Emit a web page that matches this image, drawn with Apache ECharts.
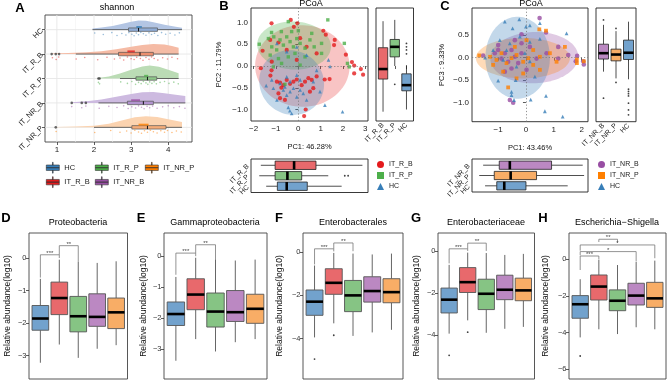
<!DOCTYPE html>
<html>
<head>
<meta charset="utf-8">
<script src="https://cdn.jsdelivr.net/npm/echarts@6/dist/echarts.min.js"></script>
<style>
html, body { margin: 0; padding: 0; background: #fff; }
#chart { width: 669px; height: 381px; }
</style>
</head>
<body>
<div id="chart"></div>
<script>
// ---------------- data ----------------
var groups = ['HC', 'IT_R_B', 'IT_R_P', 'IT_NR_B', 'IT_NR_P'];

// A: shannon index, boxes are [min, q1, median, q3, max]
var shannonTicks = [1, 2, 3, 4];
var shannonMinor = [1.5, 2.5, 3.5, 4.5];
var shannonBox = [
    [1.96, 2.93, 3.20, 3.71, 4.37],
    [1.51, 2.66, 3.24, 3.60, 4.28],
    [2.70, 3.13, 3.44, 3.69, 4.28],
    [2.12, 2.90, 3.33, 3.60, 4.46],
    [2.00, 3.02, 3.44, 3.94, 4.37]
];
var shannonOutliers = [[], [0.86, 0.97, 1.06], [2.12, 2.15], [1.40, 1.67, 1.78], [0.97]];
var shannonMeanSE = [[3.14, 3.29], [2.90, 3.10], [3.35, 3.46], [3.00, 3.24], [3.20, 3.47]];
// half violin: [shannon, height in category units]
var shannonDensity = [
    [[1.96, 0.05], [2.2, 0.09], [2.5, 0.15], [2.8, 0.25], [3.0, 0.32], [3.2, 0.37], [3.4, 0.36], [3.6, 0.3], [3.9, 0.2], [4.2, 0.12], [4.37, 0.08]],
    [[0.86, 0.02], [1.3, 0.04], [1.8, 0.07], [2.2, 0.12], [2.6, 0.2], [3.0, 0.3], [3.3, 0.37], [3.6, 0.41], [3.9, 0.39], [4.1, 0.33], [4.28, 0.26]],
    [[2.1, 0.02], [2.4, 0.08], [2.7, 0.2], [3.0, 0.36], [3.3, 0.49], [3.5, 0.53], [3.75, 0.48], [4.0, 0.36], [4.28, 0.22]],
    [[1.4, 0.03], [1.8, 0.07], [2.2, 0.14], [2.6, 0.25], [3.0, 0.37], [3.3, 0.44], [3.6, 0.45], [3.9, 0.4], [4.2, 0.33], [4.46, 0.28]],
    [[0.97, 0.01], [1.5, 0.03], [2.0, 0.07], [2.4, 0.15], [2.8, 0.3], [3.1, 0.41], [3.4, 0.45], [3.7, 0.42], [4.0, 0.33], [4.37, 0.22]]
];
// raw points under each box: [shannon, offset below the box]
var shannonPoints = [
    [[2.02, 0.14], [2.25, 0.2], [2.48, 0.12], [2.62, 0.24], [2.75, 0.16], [2.86, 0.22], [2.94, 0.12], [3.02, 0.19], [3.08, 0.25], [3.14, 0.14], [3.2, 0.21], [3.26, 0.11], [3.33, 0.17], [3.4, 0.23], [3.48, 0.13], [3.55, 0.2], [3.63, 0.15], [3.72, 0.24], [3.82, 0.12], [3.93, 0.19], [4.05, 0.15], [4.18, 0.22], [4.3, 0.13]],
    [[0.88, 0.15], [0.98, 0.22], [1.05, 0.12], [1.52, 0.2], [1.75, 0.14], [2.1, 0.23], [2.35, 0.13], [2.55, 0.2], [2.7, 0.16], [2.8, 0.24], [2.9, 0.12], [3.0, 0.19], [3.08, 0.22], [3.15, 0.13], [3.25, 0.18], [3.32, 0.25], [3.4, 0.14], [3.48, 0.21], [3.55, 0.12], [3.62, 0.18], [3.72, 0.24], [3.85, 0.15], [3.98, 0.2], [4.1, 0.13], [4.25, 0.19]],
    [[2.12, 0.16], [2.15, 0.22], [2.72, 0.14], [2.9, 0.2], [3.02, 0.12], [3.12, 0.24], [3.2, 0.16], [3.27, 0.21], [3.33, 0.12], [3.4, 0.18], [3.45, 0.24], [3.5, 0.14], [3.56, 0.2], [3.62, 0.13], [3.68, 0.22], [3.78, 0.16], [3.9, 0.12], [4.02, 0.2], [4.15, 0.15], [4.27, 0.22]],
    [[1.4, 0.15], [1.67, 0.2], [1.78, 0.13], [2.14, 0.22], [2.4, 0.14], [2.62, 0.19], [2.8, 0.12], [2.92, 0.23], [3.02, 0.16], [3.12, 0.21], [3.2, 0.12], [3.28, 0.18], [3.35, 0.24], [3.43, 0.14], [3.5, 0.2], [3.58, 0.13], [3.7, 0.22], [3.85, 0.16], [4.0, 0.12], [4.15, 0.2], [4.3, 0.15], [4.45, 0.22]],
    [[0.98, 0.17], [2.02, 0.21], [2.45, 0.13], [2.7, 0.2], [2.88, 0.15], [3.0, 0.23], [3.1, 0.12], [3.2, 0.19], [3.28, 0.24], [3.36, 0.14], [3.44, 0.2], [3.52, 0.12], [3.6, 0.18], [3.7, 0.23], [3.8, 0.14], [3.9, 0.2], [3.98, 0.13], [4.1, 0.21], [4.22, 0.15], [4.35, 0.19]]
];

// B: PCoA of IT_R_B / IT_R_P / HC
var pcoaBGroups = ['IT_R_B', 'IT_R_P', 'HC'];
var pcoaBXTicks = [-2, -1, 0, 1, 2, 3];
var pcoaBYTicks = [-1, -0.5, 0, 0.5, 1];
var pcoaB_IT_R_B = [[-1.2, 0.98], [-0.34, 1.06], [-0.04, 0.98], [-0.2, 0.9], [1.12, 0.81], [1.23, 0.72], [1.63, 0.6], [1.6, 0.48], [2.13, 0.26], [2.4, 0.09], [2.5, 0.01], [2.5, -0.17], [2.8, -0.07], [2.9, -0.2], [1.18, -0.31], [1.4, -0.3], [0.26, -1.15], [0.33, -1.0], [-0.76, -0.5], [-1.25, -0.22], [-1.2, -0.1], [-0.96, -0.36], [-0.82, -0.38], [-0.67, -0.44], [-0.52, -0.32], [-0.37, -0.41], [-0.22, -0.36], [-0.07, -0.31], [0.15, -0.44], [0.3, -0.36], [0.45, -0.28], [0.6, -0.32], [0.82, -0.24], [-0.89, -0.63], [-0.82, -0.74], [-0.6, -0.78], [0.52, -0.59], [0.67, -0.51], [-1.26, 0.6], [-0.89, 0.54], [-0.52, 0.37], [0.08, 0.64], [0.37, 0.44], [0.82, 0.29], [-1.19, 0.1], [-0.07, 0.14], [-1.6, 0.35], [-1.68, -0.05]];
var pcoaB_IT_R_P = [[-0.45, 1.02], [1.32, 1.06], [-1.2, 0.77], [-0.76, 0.79], [0.0, 0.81], [0.6, 0.75], [2.06, 0.52], [2.2, 0.06], [2.28, -0.02], [-1.34, 0.63], [-1.19, 0.44], [-0.97, 0.37], [-0.82, 0.6], [-0.67, 0.48], [-0.52, 0.67], [-0.37, 0.56], [-0.22, 0.44], [-0.07, 0.63], [0.08, 0.52], [0.3, 0.41], [0.52, 0.6], [0.71, 0.44], [1.04, 0.52], [-1.26, 0.25], [-0.89, 0.17], [-0.45, 0.21], [-0.15, 0.29], [0.3, 0.21], [1.04, 0.29], [-1.12, -0.02], [-0.75, 0.06], [0.08, 0.02], [-0.3, 0.79], [-1.1, 0.67], [-1.75, 0.5], [-0.6, -0.42]];
var pcoaB_HC = [[1.19, -0.9], [1.98, -1.05], [-0.45, -0.95], [-0.3, -1.09], [-0.38, -1.03], [1.35, 0.14], [1.42, -0.01], [-0.67, -0.55], [-0.52, -0.67], [-0.37, -0.59], [-0.22, -0.51], [-0.07, -0.71], [0.08, -0.55], [0.22, -0.63], [0.37, -0.78], [-0.96, -0.78], [-1.12, -0.51], [-0.82, -0.4], [-0.37, -0.36], [0.08, -0.32], [0.67, -0.36], [0.82, -0.1], [-0.52, 0.33], [-0.07, 0.44], [-0.96, 0.52], [0.37, 0.25], [-0.52, -0.25], [-0.07, -0.21], [-1.19, -0.32], [0.97, -0.59], [-1.44, -0.45], [-0.6, -0.48]];
// confidence ellipses: [cx, cy, ux, uy, vx, vy]
var pcoaBEllipses = [[0.18, 0.0, 2.1, -0.12, 0.25, 0.93], [-0.19, 0.47, 1.65, -0.05, 0.08, 0.55], [-0.3, -0.38, 1.45, -0.08, 0.08, 0.74]];
var pcoaB_PC2Box = [[-1.05, -0.30, -0.07, 0.42, 1.03], [0.0, 0.21, 0.44, 0.61, 1.06], [-1.0, -0.57, -0.44, -0.18, 0.02]];
var pcoaB_PC2Out = [[], [-0.42], [0.28, 0.37, 0.44, 0.52]];
var pcoaB_PC1Box = [[-1.68, -1.04, -0.19, 0.79, 2.87], [-1.75, -1.04, -0.49, 0.15, 1.34], [-1.44, -0.94, -0.52, 0.40, 1.94]];
var pcoaB_PC1Out = [[], [2.08, 2.23], []];

// C: PCoA of IT_NR_B / IT_NR_P / HC
var pcoaCGroups = ['IT_NR_B', 'IT_NR_P', 'HC'];
var pcoaCXTicks = [-1, 0, 1, 2];
var pcoaCYTicks = [-1, -0.5, 0, 0.5];
var pcoaC_IT_NR_B = [[0.49, 0.88], [0.72, 0.56], [-0.16, 0.52], [1.16, 0.24], [1.52, 0.06], [1.84, 0.04], [1.79, -0.08], [2.06, -0.08], [2.08, -0.15], [-0.46, -1.0], [-0.58, -0.94], [-1.12, 0.1], [-1.0, 0.17], [-0.88, -0.02], [-0.76, 0.1], [-0.64, -0.09], [-0.52, 0.17], [-0.4, 0.02], [-0.28, -0.12], [-0.52, -0.24], [-0.76, -0.31], [-0.16, 0.1], [0.14, 0.24], [0.38, -0.02], [0.74, 0.1], [-1.0, 0.28], [-0.16, 0.32], [0.02, -0.27], [-0.4, 0.39], [1.16, -0.02], [-1.54, 0.05]];
var pcoaC_IT_NR_P = [[0.48, 0.63], [0.72, 0.6], [1.4, 0.24], [1.83, -0.04], [1.83, -0.12], [2.08, -0.08], [-0.64, -0.66], [-0.34, -0.46], [-1.29, 0.02], [-1.06, -0.05], [-0.88, 0.1], [-0.7, -0.12], [-0.52, -0.01], [-0.34, 0.06], [-0.1, -0.09], [0.08, -0.01], [0.26, -0.16], [0.5, 0.02], [0.86, 0.1], [1.1, -0.09], [-0.82, -0.31], [-0.4, 0.24], [0.02, 0.39], [0.26, 0.17], [-1.18, -0.16], [-0.1, -0.35], [0.5, -0.27], [-1.68, 0.05]];
var pcoaC_HC = [[-0.76, 0.8], [-0.24, 0.85], [0.0, 0.69], [-0.48, 0.65], [0.14, 0.72], [0.5, 0.77], [1.46, 0.54], [-1.0, -0.51], [-0.37, -0.5], [-0.52, -0.83], [-0.43, -0.94], [0.17, -0.93], [0.72, -0.85], [0.68, -1.19], [1.32, -1.31], [-0.52, -0.76], [-0.94, 0.39], [-0.58, 0.32], [-0.22, 0.47], [0.14, 0.35], [0.5, 0.42], [-0.82, -0.05], [-0.34, -0.2], [0.14, -0.08], [-0.7, 0.17], [-1.18, 0.17], [-0.04, 0.1], [0.32, -0.42], [-1.47, 0.0]];
var pcoaCEllipses = [[0.3, 0.0, 1.58, 0.02, 0.0, 0.57], [-0.11, -0.01, 1.69, 0.0, 0.0, 0.45], [-0.3, 0.0, 1.16, 0.0, 0.0, 0.91]];
var pcoaC_PC3Box = [[-0.31, -0.03, 0.10, 0.30, 0.73], [-0.46, -0.07, 0.07, 0.19, 0.59], [-0.48, -0.04, 0.11, 0.39, 0.80]];
var pcoaC_PC3Out = [[0.84, -0.9], [0.65, -0.55], [-0.7, -0.75, -0.8, -0.85, -1.01, -1.16, -1.27]];
var pcoaC_PC1Box = [[-1.54, -0.96, -0.58, 0.92, 2.04], [-1.68, -1.14, -0.55, 0.38, 2.09], [-1.47, -1.05, -0.78, 0.0, 1.5]];
var pcoaC_PC1Out = [[], [], []];

// D-H: relative abundance (log10), boxes in groups order
var taxaTitles = ['Proteobacteria', 'Gammaproteobacteria', 'Enterobacterales', 'Enterobacteriaceae', 'Escherichia\u2212Shigella'];
var boxProteobacteria = [[-3.22, -2.22, -1.86, -1.46, -0.64], [-2.66, -1.74, -1.23, -0.74, -0.05], [-3.07, -2.27, -1.79, -1.18, -0.12], [-2.79, -2.10, -1.81, -1.10, -0.15], [-2.68, -2.17, -1.67, -1.23, -0.10]];
var boxGammaproteobacteria = [[-3.38, -2.24, -1.87, -1.48, -0.67], [-2.68, -1.73, -1.24, -0.73, -0.05], [-3.08, -2.29, -1.79, -1.19, -0.10], [-2.78, -2.11, -1.81, -1.11, -0.14], [-2.68, -2.17, -1.70, -1.23, -0.11]];
var boxEnterobacterales = [[-3.95, -2.93, -2.30, -1.76, -0.63], [-3.30, -1.96, -1.43, -0.78, -0.05], [-3.88, -2.76, -2.01, -1.32, -0.08], [-3.72, -2.32, -1.81, -1.15, -0.12], [-3.60, -2.35, -1.86, -1.24, -0.08]];
var boxEnterobacteriaceae = [[-3.92, -2.94, -2.31, -1.76, -0.66], [-3.29, -1.97, -1.48, -0.79, -0.08], [-3.88, -2.78, -2.03, -1.34, -0.10], [-3.69, -2.31, -1.84, -1.15, -0.19], [-3.60, -2.36, -1.87, -1.29, -0.14]];
var boxEscherichia = [[-4.26, -3.22, -2.46, -1.99, -1.10], [-3.82, -2.23, -1.50, -0.87, -0.05], [-4.08, -2.81, -2.27, -1.68, -0.33], [-3.71, -2.50, -1.99, -1.32, -0.15], [-3.82, -2.63, -2.14, -1.27, -0.09]];
var outProteobacteria = [[], [], [], [], []];
var outGammaproteobacteria = [[], [], [], [], []];
var outEnterobacterales = [[-4.95], [-3.85], [], [], []];
var outEnterobacteriaceae = [[-4.95], [-3.85], [], [], []];
var outEscherichia = [[-5.27], [], [], [], []];
var taxaTicks = [[0, -1, -2, -3], [0, -1, -2, -3], [0, -2, -4], [0, -2, -4], [0, -2, -4, -6]];
// significance brackets: [from group, to group, height, left leg end, right leg end, label]
var sigProteobacteria = [[1, 2, 0.10, -0.60, 0.0, '***'], [2, 3, 0.38, 0.10, -0.12, '**']];
var sigGammaproteobacteria = [[1, 2, 0.10, -0.60, 0.0, '***'], [2, 3, 0.37, 0.10, -0.10, '**']];
var sigEnterobacterales = [[1, 2, 0.14, -0.58, 0.02, '***'], [2, 3, 0.41, 0.14, 0.03, '**']];
var sigEnterobacteriaceae = [[1, 2, 0.10, -0.59, 0.0, '***'], [2, 3, 0.37, 0.10, 0.0, '**']];
var sigEscherichia = [[2, 3, 1.07, 0.92, 0.88, '**'], [1, 5, 0.76, 0.45, 0.04, '*'], [1, 4, 0.40, 0.2, -0.12, '*'], [1, 2, 0.16, -0.6, -0.03, '***']];

// ---------------- styles / layout ----------------
var FONT = '"Liberation Sans", Arial, Helvetica, sans-serif';
var setColor = { HC: '#377EB8', IT_R_B: '#E41A1C', IT_R_P: '#4DAF4A', IT_NR_B: '#984EA3', IT_NR_P: '#FF7F00' };
var boxColor = { HC: '#72A2CD', IT_R_B: '#E8696C', IT_R_P: '#86C484', IT_NR_B: '#BB88C2', IT_NR_P: '#F8AD66' };
var violinFill = ['#B3C5E3', '#F5BBA5', '#BBDCB5', '#CDBAE0', '#FBD3B0'];
var boxFillA = ['#8FACD6', '#EC8F6E', '#8FC98A', '#B293CF', '#F5AC79'];
var ellipseFill = { HC: 'rgba(55,126,184,0.3)', IT_R_B: 'rgba(228,26,28,0.26)', IT_R_P: 'rgba(77,175,74,0.3)', IT_NR_B: 'rgba(152,78,163,0.3)', IT_NR_P: 'rgba(255,127,0,0.28)' };
var taxaLayout = [
    { left: 29, width: 98.5, min: -3.72, max: 0.77, nameGap: 17 },
    { left: 164, width: 103, min: -3.97, max: 0.75, nameGap: 16 },
    { left: 303, width: 100, min: -5.87, max: 0.87, nameGap: 19 },
    { left: 438, width: 96.5, min: -6.07, max: 0.85, nameGap: 17 },
    { left: 569, width: 97, min: -6.52, max: 1.41, nameGap: 19 }
];
var boxIcon = 'path://M0,5H24V10H0Z M0,10H24V15H0Z M11.4,0H12.6V5H11.4Z M11.4,15H12.6V20H11.4Z';

function minusFmt(digits) {
    return function (v) {
        var s = Math.abs(v).toFixed(digits);
        return v < -1e-9 ? '\u2212' + s : s;
    };
}

function valueAxis(grid, min, max, ticks, opt) {
    opt = opt || {};
    return {
        type: 'value', gridIndex: grid, min: min, max: max, inverse: !!opt.inverse,
        show: !!ticks,
        name: opt.name || '', nameLocation: 'middle', nameGap: opt.nameGap || 20,
        nameTextStyle: { fontSize: opt.nameSize || 8, color: '#111', fontFamily: FONT },
        axisLine: { show: false },
        splitLine: { show: false },
        axisTick: { show: !!ticks, customValues: ticks || undefined, length: 3, lineStyle: { color: '#333', width: 0.8 } },
        axisLabel: {
            show: !!ticks, customValues: ticks || undefined, formatter: opt.formatter,
            rotate: opt.rotate || 0, fontSize: opt.fontSize || 8, color: opt.color || '#222',
            margin: opt.margin || 3, fontFamily: FONT
        }
    };
}

function seg(a, b, style) {
    return { type: 'line', shape: { x1: a[0], y1: a[1], x2: b[0], y2: b[1] }, style: style };
}

function boxRenderer(cfg) {
    return function (params, api) {
        var p = api.value(0);
        var lo = api.value(1), q1 = api.value(2), md = api.value(3), q3 = api.value(4), hi = api.value(5);
        var at = function (v, d) {
            return cfg.horizontal ? api.coord([v, p + d]) : api.coord([p + d, v]);
        };
        var w = cfg.halfWidth;
        var c1 = at(q1, -w), c2 = at(q3, w);
        var whisker = { stroke: cfg.whisker, lineWidth: cfg.whiskerWidth };
        return {
            type: 'group',
            children: [
                seg(at(lo, 0), at(q1, 0), whisker),
                seg(at(q3, 0), at(hi, 0), whisker),
                {
                    type: 'rect',
                    shape: { x: Math.min(c1[0], c2[0]), y: Math.min(c1[1], c2[1]), width: Math.abs(c2[0] - c1[0]), height: Math.abs(c2[1] - c1[1]) },
                    style: { fill: cfg.fills[params.dataIndex], stroke: cfg.stroke, lineWidth: cfg.strokeWidth }
                },
                seg(at(md, -w), at(md, w), { stroke: cfg.median, lineWidth: cfg.medianWidth })
            ]
        };
    };
}

function boxData(stats) {
    return stats.map(function (s, i) { return [i + 1].concat(s); });
}

function outlierData(outs, horizontal) {
    var res = [];
    outs.forEach(function (list, i) {
        list.forEach(function (v) { res.push(horizontal ? [v, i + 1] : [i + 1, v]); });
    });
    return res;
}

function ellipseRenderer(fills) {
    return function (params, api) {
        var cx = api.value(0), cy = api.value(1), ux = api.value(2), uy = api.value(3), vx = api.value(4), vy = api.value(5);
        var pts = [];
        for (var k = 0; k < 90; k++) {
            var t = k / 90 * Math.PI * 2;
            pts.push(api.coord([cx + ux * Math.cos(t) + vx * Math.sin(t), cy + uy * Math.cos(t) + vy * Math.sin(t)]));
        }
        return { type: 'polygon', shape: { points: pts }, style: { fill: fills[params.dataIndex] } };
    };
}

function bracketRenderer(list) {
    return function (params, api) {
        var b = list[params.dataIndex];
        var p1 = api.coord([b[0], b[3]]), p2 = api.coord([b[0], b[2]]), p3 = api.coord([b[1], b[2]]), p4 = api.coord([b[1], b[4]]);
        return {
            type: 'group',
            children: [
                { type: 'polyline', shape: { points: [p1, p2, p3, p4] }, style: { stroke: '#777', lineWidth: 0.8, fill: 'none' } },
                { type: 'text', x: (p2[0] + p3[0]) / 2, y: p2[1] + 1.5, style: { text: b[5], fontSize: 6, fill: '#444', align: 'center', verticalAlign: 'bottom', fontFamily: FONT } }
            ]
        };
    };
}

function lineRenderer(vertical, style) {
    return function (params, api) {
        var cs = params.coordSys;
        var v = api.value(0);
        if (vertical) {
            var x = api.coord([v, 1])[0];
            return seg([x, cs.y], [x, cs.y + cs.height], style);
        }
        var y = api.coord([1, v])[1];
        return seg([cs.x, y], [cs.x + cs.width, y], style);
    };
}

var grids = [
    { left: 45, top: 15, width: 147, height: 127, borderColor: '#444' },   // A
    { left: 251, top: 8, width: 117, height: 113, borderColor: '#222' },   // B scatter
    { left: 376, top: 8, width: 37.5, height: 113, borderColor: '#222' },  // B PC2 box
    { left: 251, top: 159, width: 117, height: 33.5, borderColor: '#222' },// B PC1 box
    { left: 472, top: 8, width: 116, height: 113.7, borderColor: '#222' }, // C scatter
    { left: 596, top: 8, width: 40, height: 113.7, borderColor: '#222' },  // C PC3 box
    { left: 472, top: 159, width: 116, height: 33, borderColor: '#222' }   // C PC1 box
];
taxaLayout.forEach(function (t) {
    grids.push({ left: t.left, top: 233, width: t.width, height: 146, borderColor: '#444' });
});
grids.forEach(function (g) { g.show = true; g.borderWidth = 0.9; g.backgroundColor = 'transparent'; g.containLabel = false; });

var xAxes = [], yAxes = [], series = [];

// ---------- A ----------
xAxes.push(valueAxis(0, 0.68, 4.64, shannonTicks, { formatter: minusFmt(0), fontSize: 8, margin: 4 }));
yAxes.push(valueAxis(0, 0.4, 5.6, [1, 2, 3, 4, 5], {
    inverse: true, rotate: 45, fontSize: 7.5, margin: 3,
    formatter: function (v) { return groups[Math.round(v) - 1]; }
}));
series.push({ type: 'custom', xAxisIndex: 0, yAxisIndex: 0, silent: true, data: shannonMinor.map(function (v) { return [v]; }),
    renderItem: lineRenderer(true, { stroke: '#F2F2F2', lineWidth: 0.6 }) });
series.push({ type: 'custom', xAxisIndex: 0, yAxisIndex: 0, silent: true, data: shannonTicks.map(function (v) { return [v]; }),
    renderItem: lineRenderer(true, { stroke: '#E6E6E6', lineWidth: 0.9 }) });
series.push({ type: 'custom', xAxisIndex: 0, yAxisIndex: 0, silent: true, data: groups.map(function (g, i) { return [i + 1]; }),
    renderItem: lineRenderer(false, { stroke: '#E6E6E6', lineWidth: 0.9 }) });
series.push({
    type: 'custom', xAxisIndex: 0, yAxisIndex: 0, silent: true,
    data: groups.map(function (g, i) { return [shannonBox[i][2], i + 1]; }),
    renderItem: function (params, api) {
        var i = params.dataIndex, d = shannonDensity[i], pos = i + 1;
        var pts = d.map(function (q) { return api.coord([q[0], pos - q[1]]); });
        pts.push(api.coord([d[d.length - 1][0], pos]));
        pts.push(api.coord([d[0][0], pos]));
        return { type: 'polygon', shape: { points: pts }, style: { fill: violinFill[i] } };
    }
});
groups.forEach(function (g, i) {
    series.push({
        type: 'scatter', name: g, xAxisIndex: 0, yAxisIndex: 0, silent: true, symbolSize: 1.6,
        itemStyle: { color: setColor[g], opacity: 0.5 },
        data: shannonPoints[i].map(function (p) { return [p[0], i + 1 + p[1]]; })
    });
});
series.push({
    type: 'custom', xAxisIndex: 0, yAxisIndex: 0, silent: true,
    data: shannonBox.map(function (s, i) { return [i + 1].concat(s); }),
    renderItem: boxRenderer({ horizontal: true, halfWidth: 0.07, fills: boxFillA, stroke: '#555', strokeWidth: 0.7,
        whisker: '#444', whiskerWidth: 0.8, median: '#111', medianWidth: 1 })
});
series.push({
    type: 'custom', xAxisIndex: 0, yAxisIndex: 0, silent: true,
    data: shannonMeanSE.map(function (m, i) { return [m[0], m[1], i + 1]; }),
    renderItem: function (params, api) {
        var pos = api.value(2);
        var a = api.coord([api.value(0), pos - 0.15]), b = api.coord([api.value(1), pos - 0.07]);
        return { type: 'rect', shape: { x: a[0], y: a[1], width: b[0] - a[0], height: b[1] - a[1] },
            style: { fill: setColor[groups[params.dataIndex]], opacity: 0.8 } };
    }
});
series.push({ type: 'scatter', xAxisIndex: 0, yAxisIndex: 0, silent: true, symbolSize: 2.6,
    itemStyle: { color: '#444' }, data: outlierData(shannonOutliers, true) });

// ---------- PCoA panels ----------
function pcoaPanel(gScatter, gSide, gBottom, cfg) {
    var ix = xAxes.length;
    xAxes.push(valueAxis(gScatter, cfg.xMin, cfg.xMax, cfg.xTicks, { formatter: minusFmt(0), name: cfg.xName, nameGap: 22, nameSize: 7.5, margin: 4 }));
    yAxes.push(valueAxis(gScatter, cfg.yMin, cfg.yMax, cfg.yTicks, { formatter: minusFmt(1), name: cfg.yName, nameGap: cfg.yNameGap, nameSize: 7.5, margin: 3 }));
    xAxes.push(valueAxis(gSide, 0.4, 3.6, [1, 2, 3], { rotate: 45, fontSize: 7, margin: 3,
        formatter: function (v) { return cfg.groups[Math.round(v) - 1]; } }));
    yAxes.push(valueAxis(gSide, cfg.yMin, cfg.yMax, null));
    xAxes.push(valueAxis(gBottom, cfg.xMin, cfg.xMax, null));
    yAxes.push(valueAxis(gBottom, 0.4, 3.6, [1, 2, 3], { inverse: true, rotate: 45, fontSize: 7, margin: 3,
        formatter: function (v) { return cfg.groups[Math.round(v) - 1]; } }));

    series.push({
        type: 'custom', xAxisIndex: ix, yAxisIndex: ix, silent: true,
        data: cfg.ellipses,
        renderItem: ellipseRenderer(cfg.groups.map(function (g) { return ellipseFill[g]; }))
    });
    cfg.groups.forEach(function (g, k) {
        var s = {
            type: 'scatter', name: g, xAxisIndex: ix, yAxisIndex: ix, silent: true,
            symbol: cfg.symbols[k], symbolSize: cfg.sizes[k],
            itemStyle: { color: setColor[g] }, data: cfg.points[k]
        };
        if (k === 0) {
            s.markLine = { silent: true, symbol: 'none', label: { show: false },
                lineStyle: { type: [1.2, 2], color: '#777', width: 0.8 },
                data: [{ xAxis: 0 }, { yAxis: 0 }] };
        }
        series.push(s);
    });
    var fills = cfg.groups.map(function (g) { return boxColor[g]; });
    var boxStyle = { halfWidth: 0.4, fills: fills, stroke: '#222', strokeWidth: 0.8, whisker: '#222', whiskerWidth: 0.8, median: '#000', medianWidth: 2.6 };
    series.push({ type: 'custom', xAxisIndex: ix + 1, yAxisIndex: ix + 1, silent: true, data: boxData(cfg.sideBox),
        renderItem: boxRenderer(Object.assign({ horizontal: false }, boxStyle)) });
    series.push({ type: 'scatter', xAxisIndex: ix + 1, yAxisIndex: ix + 1, silent: true, symbolSize: 1.8,
        itemStyle: { color: '#111' }, data: outlierData(cfg.sideOut, false) });
    series.push({ type: 'custom', xAxisIndex: ix + 2, yAxisIndex: ix + 2, silent: true, data: boxData(cfg.bottomBox),
        renderItem: boxRenderer(Object.assign({ horizontal: true }, boxStyle)) });
    series.push({ type: 'scatter', xAxisIndex: ix + 2, yAxisIndex: ix + 2, silent: true, symbolSize: 1.8,
        itemStyle: { color: '#111' }, data: outlierData(cfg.bottomOut, true) });
}

pcoaPanel(1, 2, 3, {
    groups: pcoaBGroups, xMin: -2.12, xMax: 3.12, yMin: -1.264, yMax: 1.333,
    xTicks: pcoaBXTicks, yTicks: pcoaBYTicks, xName: 'PC1: 46.28%', yName: 'PC2 : 11.79%', yNameGap: 28,
    ellipses: pcoaBEllipses, points: [pcoaB_IT_R_B, pcoaB_IT_R_P, pcoaB_HC],
    symbols: ['circle', 'rect', 'triangle'], sizes: [4.2, 3.4, 3.6],
    sideBox: pcoaB_PC2Box, sideOut: pcoaB_PC2Out, bottomBox: pcoaB_PC1Box, bottomOut: pcoaB_PC1Out
});
pcoaPanel(4, 5, 6, {
    groups: pcoaCGroups, xMin: -1.94, xMax: 2.23, yMin: -1.422, yMax: 1.104,
    xTicks: pcoaCXTicks, yTicks: pcoaCYTicks, xName: 'PC1: 43.46%', yName: 'PC3 : 9.33%', yNameGap: 26,
    ellipses: pcoaCEllipses, points: [pcoaC_IT_NR_B, pcoaC_IT_NR_P, pcoaC_HC],
    symbols: ['circle', 'rect', 'triangle'], sizes: [4.6, 3.8, 3.8],
    sideBox: pcoaC_PC3Box, sideOut: pcoaC_PC3Out, bottomBox: pcoaC_PC1Box, bottomOut: pcoaC_PC1Out
});

// ---------- D-H ----------
var taxaBoxes = [boxProteobacteria, boxGammaproteobacteria, boxEnterobacterales, boxEnterobacteriaceae, boxEscherichia];
var taxaOut = [outProteobacteria, outGammaproteobacteria, outEnterobacterales, outEnterobacteriaceae, outEscherichia];
var taxaSig = [sigProteobacteria, sigGammaproteobacteria, sigEnterobacterales, sigEnterobacteriaceae, sigEscherichia];
taxaLayout.forEach(function (t, k) {
    var gi = 7 + k, ix = xAxes.length;
    xAxes.push(valueAxis(gi, 0.4, 5.6, null));
    yAxes.push(valueAxis(gi, t.min, t.max, taxaTicks[k], { formatter: minusFmt(0), name: 'Relative abundance(log10)',
        nameGap: t.nameGap, nameSize: 8.5, fontSize: 7.5, margin: 2.5, color: '#333' }));
    series.push({ type: 'custom', xAxisIndex: ix, yAxisIndex: ix, silent: true, data: boxData(taxaBoxes[k]),
        renderItem: boxRenderer({ horizontal: false, halfWidth: 0.44, fills: groups.map(function (g) { return boxColor[g]; }),
            stroke: '#555', strokeWidth: 0.9, whisker: '#666', whiskerWidth: 1, median: '#000', medianWidth: 2.6 }) });
    series.push({ type: 'scatter', xAxisIndex: ix, yAxisIndex: ix, silent: true, symbolSize: 1.8,
        itemStyle: { color: '#111' }, data: outlierData(taxaOut[k], false) });
    series.push({ type: 'custom', xAxisIndex: ix, yAxisIndex: ix, silent: true,
        data: taxaSig[k].map(function (b) { return [b[0], b[2]]; }), renderItem: bracketRenderer(taxaSig[k]) });
});

// ---------- legends ----------
var legendText = { fontSize: 7.5, color: '#222', fontFamily: FONT };
function boxLegendItem(g) {
    return { name: g, icon: boxIcon, itemStyle: { color: setColor[g], borderColor: '#333', borderWidth: 0.6, opacity: 1 } };
}
function pointLegendItem(g, icon) {
    return { name: g, icon: icon, itemStyle: { color: setColor[g], opacity: 1, borderWidth: 0 } };
}
var legends = [
    { left: 46, top: 162, data: [boxLegendItem('HC'), boxLegendItem('IT_R_B')] },
    { left: 95, top: 162, data: [boxLegendItem('IT_R_P'), boxLegendItem('IT_NR_B')] },
    { left: 145, top: 162, data: [boxLegendItem('IT_NR_P')] }
].map(function (l) {
    return Object.assign({ orient: 'vertical', itemGap: 3, itemWidth: 13, itemHeight: 11, padding: 0,
        selectedMode: false, textStyle: legendText }, l);
});
legends.push({ left: 377, top: 161, orient: 'vertical', itemGap: 4, itemWidth: 7, itemHeight: 7, padding: 0, selectedMode: false,
    textStyle: { fontSize: 7, color: '#222', fontFamily: FONT },
    data: [pointLegendItem('IT_R_B', 'circle'), pointLegendItem('IT_R_P', 'rect'), pointLegendItem('HC', 'triangle')] });
legends.push({ left: 598, top: 161, orient: 'vertical', itemGap: 4, itemWidth: 7, itemHeight: 7, padding: 0, selectedMode: false,
    textStyle: { fontSize: 7, color: '#222', fontFamily: FONT },
    data: [pointLegendItem('IT_NR_B', 'circle'), pointLegendItem('IT_NR_P', 'rect'), pointLegendItem('HC', 'triangle')] });

// ---------- text ----------
var labels = [
    ['A', 20, 8, 13, true], ['shannon', 117, 8, 9, false],
    ['B', 224, 6, 13, true], ['PCoA', 311, 4, 9, false],
    ['C', 445, 6, 13, true], ['PCoA', 531, 4, 9, false],
    ['D', 6, 218, 13, true], [taxaTitles[0], 78, 223, 9, false],
    ['E', 141, 218, 13, true], [taxaTitles[1], 215, 223, 9, false],
    ['F', 279, 218, 13, true], [taxaTitles[2], 353, 223, 9, false],
    ['G', 416, 218, 13, true], [taxaTitles[3], 486, 223, 9, false],
    ['H', 543, 218, 13, true], [taxaTitles[4], 617, 223, 9, false]
];

var chart = echarts.init(document.getElementById('chart'), null, { renderer: 'canvas' });
chart.setOption({
    animation: false,
    backgroundColor: '#fff',
    textStyle: { fontFamily: FONT },
    grid: grids,
    xAxis: xAxes,
    yAxis: yAxes,
    legend: legends,
    series: series,
    graphic: labels.map(function (t) {
        return { type: 'text', x: t[1], y: t[2], silent: true,
            style: { text: t[0], fontSize: t[3], fontWeight: t[4] ? 'bold' : 'normal', fill: '#000',
                align: 'center', verticalAlign: 'middle', fontFamily: FONT } };
    })
});
</script>
</body>
</html>
